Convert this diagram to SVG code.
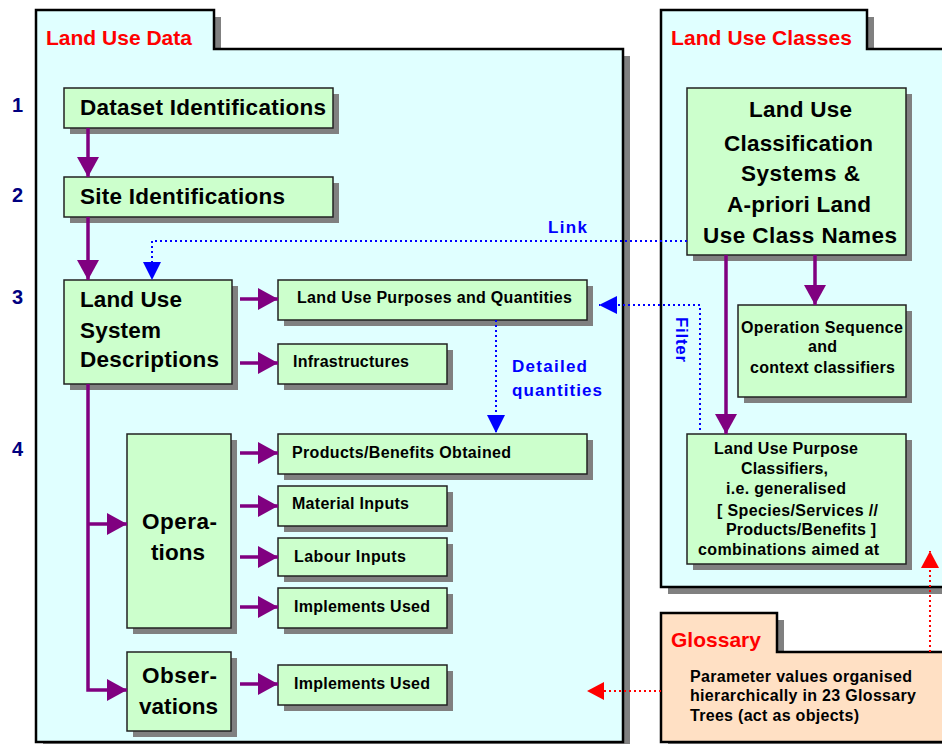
<svg xmlns="http://www.w3.org/2000/svg" width="942" height="744" viewBox="0 0 942 744">
  <style>
    text { font-family: "Liberation Sans", Arial, sans-serif; font-weight: bold; }
    .panel { fill: #E0FFFF; stroke: #000; stroke-width: 2.5; }
    .gloss { fill: #FFE0C4; stroke: #000; stroke-width: 2.5; }
    .shadow { fill: #808080; }
    .box { fill: #CCFFCC; stroke: #222; stroke-width: 1.5; }
    .title { fill: #FF0000; font-size: 21px; }
    .num { fill: #000080; font-size: 20px; }
    .big { fill: #000; font-size: 22.5px; }
    .mid { fill: #000; font-size: 16px; }
    .blue { fill: #0000FF; font-size: 17px; }
    .flow { fill: none; stroke: #800080; stroke-width: 3.5; }
    .dotb { fill: none; stroke: #0000FF; stroke-width: 2; stroke-dasharray: 2 3; }
    .dotr { fill: none; stroke: #FF0000; stroke-width: 2; stroke-dasharray: 2 3; }
  </style>
  <defs>
    <marker id="ap" markerUnits="userSpaceOnUse" viewBox="0 0 20 22" markerWidth="20" markerHeight="22" refX="20" refY="11" orient="auto">
      <path d="M0,0 L20,11 L0,22 Z" fill="#800080"/>
    </marker>
    <marker id="ab" markerUnits="userSpaceOnUse" viewBox="0 0 18 18" markerWidth="18" markerHeight="18" refX="18" refY="9" orient="auto">
      <path d="M0,0 L18,9 L0,18 Z" fill="#0000FF"/>
    </marker>
    <marker id="ar" markerUnits="userSpaceOnUse" viewBox="0 0 17 18" markerWidth="17" markerHeight="18" refX="17" refY="9" orient="auto">
      <path d="M0,0 L17,9 L0,18 Z" fill="#FF0000"/>
    </marker>
  </defs>

  <!-- folders -->
  <g id="panel-data">
    <path class="shadow" d="M43,17 H221 V56 H630 V749 H43 Z"/>
    <path class="panel" d="M36,10 H214 V49 H623 V742 H36 Z"/>
    <text class="title" x="46" y="45" textLength="146" lengthAdjust="spacing">Land Use Data</text>
  </g>
  <g id="panel-classes">
    <path class="shadow" d="M668,17 H874 V56 H950 V594 H668 Z"/>
    <path class="panel" d="M661,10 H867 V49 H950 V587 H661 Z"/>
    <text class="title" x="671" y="45" textLength="181" lengthAdjust="spacing">Land Use Classes</text>
  </g>
  <g id="panel-glossary">
    <path class="shadow" d="M668,620 H784 V659 H950 V750 H668 Z"/>
    <path class="gloss" d="M661,613 H777 V652 H950 V742 H661 Z"/>
    <text class="title" x="671" y="647" textLength="90" lengthAdjust="spacing">Glossary</text>
    <text class="mid" x="690" y="682" textLength="222" lengthAdjust="spacing">Parameter values organised</text>
    <text class="mid" x="690" y="701" textLength="226" lengthAdjust="spacing">hierarchically in 23 Glossary</text>
    <text class="mid" x="690" y="721" textLength="169" lengthAdjust="spacing">Trees (act as objects)</text>
  </g>

  <!-- level numbers -->
  <g id="levels">
    <text class="num" x="12" y="112">1</text>
    <text class="num" x="12" y="202">2</text>
    <text class="num" x="12" y="304">3</text>
    <text class="num" x="12" y="456">4</text>
  </g>

  <!-- nodes -->
  <g id="dataset">
    <rect class="shadow" x="70" y="94" width="269" height="40"/>
    <rect class="box" x="64" y="88" width="269" height="40"/>
    <text class="big" x="80" y="115" textLength="246" lengthAdjust="spacing">Dataset Identifications</text>
  </g>
  <g id="site">
    <rect class="shadow" x="70" y="183" width="269" height="40"/>
    <rect class="box" x="64" y="177" width="269" height="40"/>
    <text class="big" x="80" y="204" textLength="205" lengthAdjust="spacing">Site Identifications</text>
  </g>
  <g id="system">
    <rect class="shadow" x="70" y="286" width="168" height="104"/>
    <rect class="box" x="64" y="280" width="168" height="104"/>
    <text class="big" x="80" y="307" textLength="102" lengthAdjust="spacing">Land Use</text>
    <text class="big" x="80" y="338" textLength="81" lengthAdjust="spacing">System</text>
    <text class="big" x="80" y="367" textLength="139" lengthAdjust="spacing">Descriptions</text>
  </g>
  <g id="purposes">
    <rect class="shadow" x="284" y="286" width="309" height="40"/>
    <rect class="box" x="278" y="280" width="309" height="40"/>
    <text class="mid" x="297" y="303" textLength="275" lengthAdjust="spacing">Land Use Purposes and Quantities</text>
  </g>
  <g id="infrastructures">
    <rect class="shadow" x="284" y="350" width="169" height="40"/>
    <rect class="box" x="278" y="344" width="169" height="40"/>
    <text class="mid" x="293" y="367" textLength="116" lengthAdjust="spacing">Infrastructures</text>
  </g>
  <g id="operations">
    <rect class="shadow" x="133" y="440" width="104" height="194"/>
    <rect class="box" x="127" y="434" width="104" height="194"/>
    <text class="big" x="142" y="529" textLength="75" lengthAdjust="spacing">Opera-</text>
    <text class="big" x="151" y="560" textLength="54" lengthAdjust="spacing">tions</text>
  </g>
  <g id="observations">
    <rect class="shadow" x="133" y="658" width="104" height="79"/>
    <rect class="box" x="127" y="652" width="104" height="79"/>
    <text class="big" x="142" y="683" textLength="75" lengthAdjust="spacing">Obser-</text>
    <text class="big" x="139" y="714" textLength="79" lengthAdjust="spacing">vations</text>
  </g>
  <g id="products">
    <rect class="shadow" x="284" y="440" width="309" height="40"/>
    <rect class="box" x="278" y="434" width="309" height="40"/>
    <text class="mid" x="292" y="458" textLength="219" lengthAdjust="spacing">Products/Benefits Obtained</text>
  </g>
  <g id="material">
    <rect class="shadow" x="284" y="492" width="169" height="40"/>
    <rect class="box" x="278" y="486" width="169" height="40"/>
    <text class="mid" x="292" y="509" textLength="117" lengthAdjust="spacing">Material Inputs</text>
  </g>
  <g id="labour">
    <rect class="shadow" x="284" y="544" width="169" height="38"/>
    <rect class="box" x="278" y="538" width="169" height="38"/>
    <text class="mid" x="294" y="562" textLength="112" lengthAdjust="spacing">Labour Inputs</text>
  </g>
  <g id="implements-ops">
    <rect class="shadow" x="284" y="594" width="169" height="40"/>
    <rect class="box" x="278" y="588" width="169" height="40"/>
    <text class="mid" x="294" y="612" textLength="136" lengthAdjust="spacing">Implements Used</text>
  </g>
  <g id="implements-obs">
    <rect class="shadow" x="284" y="671" width="169" height="40"/>
    <rect class="box" x="278" y="665" width="169" height="40"/>
    <text class="mid" x="294" y="689" textLength="136" lengthAdjust="spacing">Implements Used</text>
  </g>
  <g id="classification">
    <rect class="shadow" x="693" y="94" width="219" height="167"/>
    <rect class="box" x="687" y="88" width="219" height="167"/>
    <text class="big" x="749" y="117" textLength="103" lengthAdjust="spacing">Land Use</text>
    <text class="big" x="724" y="151" textLength="149" lengthAdjust="spacing">Classification</text>
    <text class="big" x="741" y="181" textLength="119" lengthAdjust="spacing">Systems &amp;</text>
    <text class="big" x="727" y="212" textLength="144" lengthAdjust="spacing">A-priori Land</text>
    <text class="big" x="703" y="243" textLength="194" lengthAdjust="spacing">Use Class Names</text>
  </g>
  <g id="sequence">
    <rect class="shadow" x="744" y="311" width="168" height="92"/>
    <rect class="box" x="738" y="305" width="168" height="92"/>
    <text class="mid" x="741" y="333" textLength="162" lengthAdjust="spacing">Operation Sequence</text>
    <text class="mid" x="808" y="352" textLength="29" lengthAdjust="spacing">and</text>
    <text class="mid" x="750" y="373" textLength="145" lengthAdjust="spacing">context classifiers</text>
  </g>
  <g id="purpose-classifiers">
    <rect class="shadow" x="693" y="440" width="219" height="130"/>
    <rect class="box" x="687" y="434" width="219" height="130"/>
    <text class="mid" x="714" y="454" textLength="144" lengthAdjust="spacing">Land Use Purpose</text>
    <text class="mid" x="741" y="474" textLength="87" lengthAdjust="spacing">Classifiers,</text>
    <text class="mid" x="726" y="494" textLength="120" lengthAdjust="spacing">i.e. generalised</text>
    <text class="mid" x="717" y="516" textLength="161" lengthAdjust="spacing">[ Species/Services //</text>
    <text class="mid" x="726" y="535" textLength="150" lengthAdjust="spacing">Products/Benefits ]</text>
    <text class="mid" x="698" y="555" textLength="181" lengthAdjust="spacing">combinations aimed at</text>
  </g>

  <!-- connectors -->
  <g id="connectors">
    <path class="flow" d="M88,128 V177" marker-end="url(#ap)"/>
    <path class="flow" d="M88,217 V280" marker-end="url(#ap)"/>
    <path class="flow" d="M240,299 H278" marker-end="url(#ap)"/>
    <path class="flow" d="M240,363 H278" marker-end="url(#ap)"/>
    <path class="flow" d="M88,384 V690 H127" marker-end="url(#ap)"/>
    <path class="flow" d="M88,524 H127" marker-end="url(#ap)"/>
    <path class="flow" d="M240,453 H278" marker-end="url(#ap)"/>
    <path class="flow" d="M240,506 H278" marker-end="url(#ap)"/>
    <path class="flow" d="M240,557 H278" marker-end="url(#ap)"/>
    <path class="flow" d="M240,607 H278" marker-end="url(#ap)"/>
    <path class="flow" d="M240,684 H278" marker-end="url(#ap)"/>
    <path class="flow" d="M726,255 V434" marker-end="url(#ap)"/>
    <path class="flow" d="M815,255 V305" marker-end="url(#ap)"/>

    <path class="dotb" d="M687,241 H152 V280" marker-end="url(#ab)"/>
    <text class="blue" x="548" y="233" textLength="39" lengthAdjust="spacing">Link</text>
    <path class="dotb" d="M700,430 V305 H599" marker-end="url(#ab)"/>
    <text class="blue" transform="translate(676,317) rotate(90)" textLength="45" lengthAdjust="spacing">Filter</text>
    <path class="dotb" d="M496,320 V433" marker-end="url(#ab)"/>
    <text class="blue" x="512" y="372" textLength="75" lengthAdjust="spacing">Detailed</text>
    <text class="blue" x="512" y="396" textLength="90" lengthAdjust="spacing">quantities</text>

    <path class="dotr" d="M661,691 H587" marker-end="url(#ar)"/>
    <path class="dotr" d="M930,652 V551" marker-end="url(#ar)"/>
  </g>
</svg>
